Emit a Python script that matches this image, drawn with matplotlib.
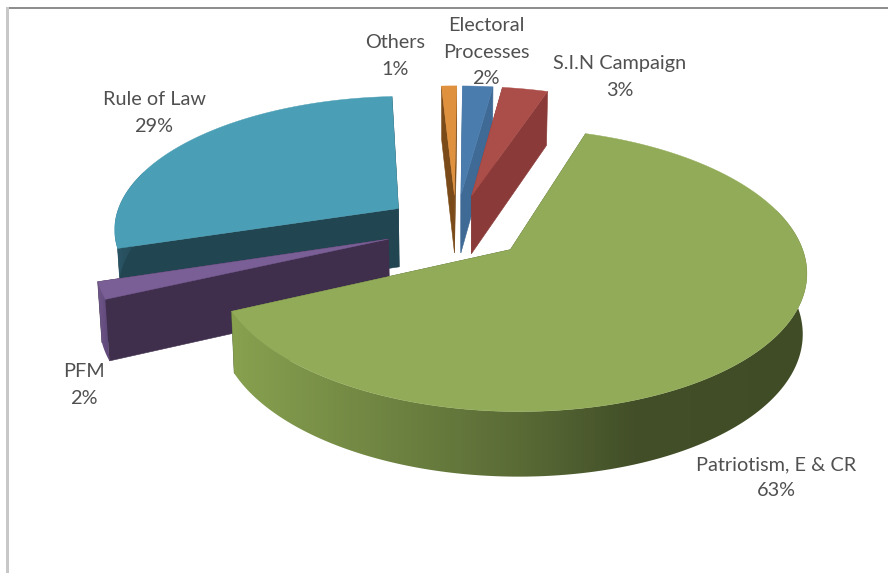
import numpy as np
import matplotlib
matplotlib.use('Agg')
import matplotlib.pyplot as plt
from matplotlib.colors import LinearSegmentedColormap
from matplotlib.patches import Polygon

plt.rcParams['font.family'] = ['Lato', 'DejaVu Sans']

# Pie data, clockwise from the top
names = ['Electoral\nProcesses', 'S.I.N Campaign', 'Patriotism, E & CR', 'PFM', 'Rule of Law', 'Others']
values = [2, 3, 63, 2, 29, 1]

top_colors = ['#4A7CAE', '#AB4E4A', '#92AB58', '#7A5E96', '#4A9EB5', '#E0913E']
wall_colors = ['#3F6A96', '#8A3A38', '#55663A', '#3F2F4D', '#224552', '#7A4A18']
rim_ramps = [
    [(0, '#4A7CAE'), (1, '#3F6A96')],
    [(0, '#AB4E4A'), (1, '#8A3A38')],
    [(0, '#87A14F'), (0.5, '#5A6B36'), (0.7, '#424F28'), (1, '#3F4C26')],
    [(0, '#6F5689'), (1, '#5D4777')],
    [(0, '#2B5666'), (1, '#224552')],
    [(0, '#E0913E'), (1, '#7A4A18')],
]

# Label centres in pixels
label_x = [486, 620, 776, 84, 154, 395]
label_y = [52, 77, 477.5, 385, 113, 56]

# 3D pie geometry
start_angle = 0.5
explode = 0.25
cx, cy = 456, 227
rx, ry = 285.5, 132.5
persp = 0.139
persp_depth = 0.08
depth_shrink = 0.012
height = 59


def project(u, v, z=0.0):
    w = 1 + persp * v
    return (cx + rx * u / (w * (1 + depth_shrink * z)),
            cy - ry * v / w + height * z / (1 + persp_depth * v))


fig = plt.figure(figsize=(8.88, 5.73), dpi=100)
ax = fig.add_axes([0, 0, 1, 1])
ax.axis('off')

# Window edges around the chart
ax.fill_between([9, 888], 7, 9, color='#8E8E8E', lw=0, zorder=20)
ax.fill_between([6, 9], 7, 573, color='#C8C8C8', lw=0, zorder=20)

total = sum(values)
edges = start_angle + np.cumsum([0] + values) * 360 / total

slices = []
for i, val in enumerate(values):
    a0, a1 = edges[i], edges[i + 1]
    mid = np.radians((a0 + a1) / 2)
    slices.append((i, a0, a1, explode * np.sin(mid), explode * np.cos(mid)))

# Back slices first, the big front slice last
draw_order = [4, 5, 0, 1, 3, 2]
layer = 2

for i, a0, a1, ou, ov in (slices[j] for j in draw_order):
    theta = np.radians(np.linspace(a0, a1, max(int(a1 - a0) * 2, 6)))
    u = ou + np.sin(theta)
    v = ov + np.cos(theta)

    # radial walls
    for t in (theta[0], theta[-1]):
        eu, ev = ou + np.sin(t), ov + np.cos(t)
        pts = [project(ou, ov), project(eu, ev), project(eu, ev, 1), project(ou, ov, 1)]
        ax.fill(*zip(*pts), color=wall_colors[i], lw=0.4, zorder=layer)

    # curved outer wall; the part past the silhouette ends up under the top surface
    front = np.cos(theta) < 0.3
    if front.sum() > 1:
        top_x, top_y = project(u[front], v[front])
        bot_x, bot_y = project(u[front], v[front], 1)
        outline = np.c_[np.r_[top_x, bot_x[::-1]], np.r_[top_y, bot_y[::-1]]]
        shape = Polygon(outline, closed=True, transform=ax.transData, fc='none', ec='none')
        ax.add_patch(shape)
        cmap = LinearSegmentedColormap.from_list('rim', rim_ramps[i])
        ramp = np.linspace(0, 1, 256).reshape(1, -1)
        img = ax.imshow(ramp, cmap=cmap, aspect='auto', zorder=layer,
                        extent=[outline[:, 0].min(), outline[:, 0].max(),
                                outline[:, 1].max(), outline[:, 1].min()])
        img.set_clip_path(shape)

    # top surface
    tx, ty = project(np.r_[ou, u], np.r_[ov, v])
    ax.fill(tx, ty, color=top_colors[i], lw=0.3, zorder=layer + 0.5)
    layer += 1

ax.set_xlim(0, 888)
ax.set_ylim(573, 0)

for name, val, lx, ly in zip(names, values, label_x, label_y):
    ax.text(lx, ly, f'{name}\n{val}%', ha='center', va='center', fontsize=14.3,
            color='#505050', linespacing=1.65, zorder=30)

fig.savefig('out.png', dpi=100, facecolor='white')
